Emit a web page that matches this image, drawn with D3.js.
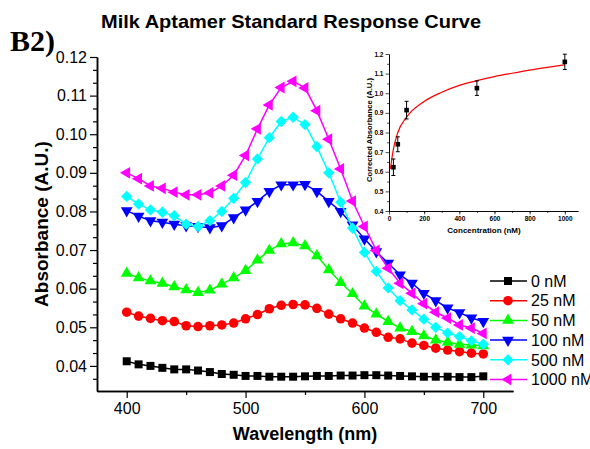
<!DOCTYPE html>
<html>
<head>
<meta charset="utf-8">
<script src="https://cdn.jsdelivr.net/npm/d3@7"></script>
<style>
  body { margin: 0; background: #fff; }
  svg { font-family: "Liberation Sans", Arial, sans-serif; }
</style>
</head>
<body>
<div id="chart"></div>
<script>
// wavelengths (nm), every 10 nm
var wavelengths = d3.range(400, 701, 10);

// absorbance per concentration
var abs0 = [0.0412,0.0404,0.0400,0.0395,0.0391,0.0391,0.0388,0.0384,0.0379,0.0377,0.0374,0.0374,0.0372,0.0372,0.0372,0.0373,0.0374,0.0374,0.0375,0.0375,0.0376,0.0376,0.0375,0.0374,0.0373,0.0372,0.0372,0.0372,0.0371,0.0371,0.0373];
var abs25 = [0.0539,0.0529,0.0523,0.0517,0.0515,0.0504,0.0502,0.0504,0.0506,0.0511,0.0522,0.0533,0.0548,0.0557,0.0559,0.0558,0.0549,0.0534,0.0522,0.0511,0.0498,0.0487,0.0474,0.0470,0.0459,0.0453,0.0446,0.0441,0.0437,0.0433,0.0431];
var abs50 = [0.0640,0.0628,0.0620,0.0614,0.0605,0.0597,0.0590,0.0596,0.0612,0.0628,0.0647,0.0674,0.0699,0.0716,0.0719,0.0711,0.0685,0.0649,0.0616,0.0587,0.0555,0.0534,0.0515,0.0498,0.0489,0.0478,0.0467,0.0461,0.0456,0.0454,0.0452];
var abs100 = [0.0802,0.0788,0.0776,0.0772,0.0767,0.0763,0.0761,0.0758,0.0763,0.0784,0.0804,0.0826,0.0852,0.0869,0.0869,0.0870,0.0852,0.0826,0.0800,0.0765,0.0729,0.0696,0.0666,0.0636,0.0614,0.0588,0.0569,0.0550,0.0538,0.0524,0.0515];
var abs500 = [0.0839,0.0819,0.0804,0.0798,0.0789,0.0767,0.0761,0.0776,0.0800,0.0834,0.0875,0.0936,0.0991,0.1033,0.1044,0.1025,0.0968,0.0900,0.0824,0.0757,0.0694,0.0645,0.0602,0.0569,0.0545,0.0521,0.0500,0.0485,0.0476,0.0465,0.0456];
var abs1000 = [0.0900,0.0885,0.0866,0.0860,0.0850,0.0843,0.0843,0.0848,0.0866,0.0894,0.0945,0.1014,0.1076,0.1121,0.1137,0.1120,0.1061,0.0987,0.0910,0.0827,0.0761,0.0699,0.0653,0.0614,0.0588,0.0561,0.0539,0.0524,0.0506,0.0498,0.0484];

var seriesNames = ["0 nM", "25 nM", "50 nM", "100 nM", "500 nM", "1000 nM"];
var seriesValues = [abs0, abs25, abs50, abs100, abs500, abs1000];
var seriesColors = ["#000000", "#ff0000", "#00ff00", "#0000ff", "#00ffff", "#ff00ff"];

// tick values, main chart
var xTicks = [400, 500, 600, 700];
var yTicks = [0.04, 0.05, 0.06, 0.07, 0.08, 0.09, 0.10, 0.11, 0.12];

// inset: standard response
var concentration = [25, 50, 100, 500, 1000];
var corrected = [0.623, 0.740, 0.914, 1.026, 1.160];
var correctedErr = [0.042, 0.038, 0.045, 0.037, 0.039];
var fitConc = [8, 15, 25, 50, 100, 200, 300, 400, 500, 600, 700, 800, 900, 1000];
var fitValue = [0.615, 0.660, 0.715, 0.800, 0.878, 0.958, 1.005, 1.040, 1.064, 1.085, 1.102, 1.118, 1.132, 1.145];
var insetXTicks = [0, 200, 400, 600, 800, 1000];
var insetYTicks = [0.4, 0.5, 0.6, 0.7, 0.8, 0.9, 1.0, 1.1, 1.2];

var width = 590, height = 449;

var svg = d3.select("#chart").append("svg")
  .attr("width", width)
  .attr("height", height);

// Title and panel label
svg.append("text")
  .attr("x", 291).attr("y", 28)
  .attr("text-anchor", "middle")
  .attr("textLength", 380)
  .attr("lengthAdjust", "spacingAndGlyphs")
  .style("font-size", "19px").style("font-weight", "bold")
  .text("Milk Aptamer Standard Response Curve");

svg.append("text")
  .attr("x", 10).attr("y", 51)
  .style("font-family", "'Liberation Serif', 'Times New Roman', serif")
  .style("font-size", "30px").style("font-weight", "bold")
  .text("B2)");

// Scales
var x = d3.scaleLinear().domain([375, 725]).range([97, 513]);
var y = d3.scaleLinear().domain([0.0335, 0.12]).range([391, 57]);

// minor ticks
var yMinor = [];
for (var v = 0.04; v < 0.1199; v += 0.01) {
  yMinor.push(v + 0.01 / 3, v + 0.02 / 3);
}
yMinor.push(0.04 - 0.01 / 3);
var xMinor = [450, 550, 650];

// Axes
var yAxisG = svg.append("g").attr("transform", "translate(97,0)");
yAxisG.call(d3.axisLeft(y).tickValues(yMinor).tickSize(4).tickSizeOuter(0).tickFormat(""));
yAxisG.append("g").call(d3.axisLeft(y).tickValues(yTicks).tickSize(7).tickSizeOuter(0).tickPadding(3).tickFormat(d3.format(".2f")));

var xAxisG = svg.append("g").attr("transform", "translate(0,391)");
xAxisG.call(d3.axisBottom(x).tickValues(xMinor).tickSize(4).tickSizeOuter(0).tickFormat(""));
xAxisG.append("g").call(d3.axisBottom(x).tickValues(xTicks).tickSize(7).tickSizeOuter(0).tickPadding(5).tickFormat(d3.format("d")));

svg.selectAll(".domain").attr("stroke-width", 1.5);
svg.selectAll(".tick line").attr("stroke-width", 1.2);
yAxisG.selectAll("text").style("font-size", "16px").style("font-family", "'Liberation Sans', Arial, sans-serif");
xAxisG.selectAll("text").style("font-size", "16px").style("font-family", "'Liberation Sans', Arial, sans-serif");

// Axis titles
svg.append("text")
  .attr("transform", "translate(48,224) rotate(-90)")
  .attr("text-anchor", "middle")
  .style("font-size", "19px").style("font-weight", "bold")
  .text("Absorbance (A.U.)");

svg.append("text")
  .attr("x", 305).attr("y", 440)
  .attr("text-anchor", "middle")
  .style("font-size", "18px").style("font-weight", "bold")
  .text("Wavelength (nm)");

// Markers
var symbols = [
  {type: d3.symbolSquare, size: 64, rot: 0},
  {type: d3.symbolCircle, size: 72, rot: 0},
  {type: d3.symbolTriangle, size: 60, rot: 0},
  {type: d3.symbolTriangle, size: 60, rot: 180},
  {type: d3.symbolSquare, size: 64, rot: 45},
  {type: d3.symbolTriangle, size: 60, rot: -90}
];

var line = d3.line()
  .x(function(d) { return x(d.w); })
  .y(function(d) { return y(d.a); });

seriesValues.forEach(function(vals, i) {
  var pts = wavelengths.map(function(w, j) { return {w: w, a: vals[j]}; });
  var g = svg.append("g");
  g.append("path")
    .datum(pts)
    .attr("d", line)
    .attr("fill", "none")
    .attr("stroke", seriesColors[i])
    .attr("stroke-width", 1.5);
  g.selectAll("path.pt")
    .data(pts)
    .enter()
    .append("path")
    .attr("class", "pt")
    .attr("d", d3.symbol().type(symbols[i].type).size(symbols[i].size))
    .attr("transform", function(d) {
      return "translate(" + x(d.w) + "," + y(d.a) + ") rotate(" + symbols[i].rot + ")";
    })
    .attr("fill", seriesColors[i]);
});

// Legend
var legend = svg.append("g");
seriesNames.forEach(function(name, i) {
  var ly = 281 + i * 19.7;
  legend.append("line")
    .attr("x1", 490).attr("x2", 527)
    .attr("y1", ly).attr("y2", ly)
    .attr("stroke", seriesColors[i]).attr("stroke-width", 1.5);
  legend.append("path")
    .attr("d", d3.symbol().type(symbols[i].type).size(symbols[i].size))
    .attr("transform", "translate(508," + ly + ") rotate(" + symbols[i].rot + ")")
    .attr("fill", seriesColors[i]);
  legend.append("text")
    .attr("x", 531).attr("y", ly)
    .attr("dy", "0.36em")
    .style("font-size", "16px")
    .text(name);
});

/********* INSET ************/
var ix = d3.scaleLinear().domain([0, 1075]).range([389, 578]);
var iy = d3.scaleLinear().domain([0.4, 1.2]).range([211, 54]);

var inset = svg.append("g");

var iyAxis = inset.append("g").attr("transform", "translate(389,0)");
iyAxis.call(d3.axisLeft(iy).tickValues(d3.range(0.45, 1.2, 0.1)).tickSize(2).tickSizeOuter(0).tickFormat(""));
iyAxis.append("g").call(d3.axisLeft(iy).tickValues(insetYTicks).tickSize(3.5).tickSizeOuter(0).tickPadding(2).tickFormat(d3.format(".1f")));

var ixAxis = inset.append("g").attr("transform", "translate(0,211)");
ixAxis.call(d3.axisBottom(ix).tickValues(d3.range(100, 1075, 100)).tickSize(2).tickSizeOuter(0).tickFormat(""));
ixAxis.append("g").call(d3.axisBottom(ix).tickValues(insetXTicks).tickSize(3.5).tickSizeOuter(0).tickPadding(1.5).tickFormat(d3.format("d")));

inset.selectAll(".domain").attr("stroke-width", 0.8);
inset.selectAll(".tick line").attr("stroke-width", 0.7);
inset.selectAll("text").style("font-size", "6.5px").style("font-weight", "bold").style("font-family", "'Liberation Sans', Arial, sans-serif");

inset.append("text")
  .attr("transform", "translate(372,130) rotate(-90)")
  .attr("text-anchor", "middle")
  .style("font-size", "7.6px").style("font-weight", "bold")
  .text("Corrected Absorbance (A.U.)");

inset.append("text")
  .attr("x", 484).attr("y", 233)
  .attr("text-anchor", "middle")
  .style("font-size", "8px").style("font-weight", "bold")
  .text("Concentration (nM)");

// fit curve
var fitPts = fitConc.map(function(c, i) { return {c: c, v: fitValue[i]}; });
inset.append("path")
  .datum(fitPts)
  .attr("d", d3.line().curve(d3.curveMonotoneX)
    .x(function(d) { return ix(d.c); })
    .y(function(d) { return iy(d.v); }))
  .attr("fill", "none")
  .attr("stroke", "#ff0000")
  .attr("stroke-width", 1.2);

// error bars and points
var pts = concentration.map(function(c, i) { return {c: c, v: corrected[i], e: correctedErr[i]}; });
var eb = inset.selectAll("g.eb").data(pts).enter().append("g").attr("class", "eb");
eb.append("line")
  .attr("x1", function(d) { return ix(d.c); }).attr("x2", function(d) { return ix(d.c); })
  .attr("y1", function(d) { return iy(d.v - d.e); }).attr("y2", function(d) { return iy(d.v + d.e); })
  .attr("stroke", "#000").attr("stroke-width", 1);
eb.append("line")
  .attr("x1", function(d) { return ix(d.c) - 2; }).attr("x2", function(d) { return ix(d.c) + 2; })
  .attr("y1", function(d) { return iy(d.v + d.e); }).attr("y2", function(d) { return iy(d.v + d.e); })
  .attr("stroke", "#000").attr("stroke-width", 1);
eb.append("line")
  .attr("x1", function(d) { return ix(d.c) - 2; }).attr("x2", function(d) { return ix(d.c) + 2; })
  .attr("y1", function(d) { return iy(d.v - d.e); }).attr("y2", function(d) { return iy(d.v - d.e); })
  .attr("stroke", "#000").attr("stroke-width", 1);
eb.append("rect")
  .attr("x", function(d) { return ix(d.c) - 2.3; })
  .attr("y", function(d) { return iy(d.v) - 2.3; })
  .attr("width", 4.6).attr("height", 4.6)
  .attr("fill", "#000");
</script>
</body>
</html>
